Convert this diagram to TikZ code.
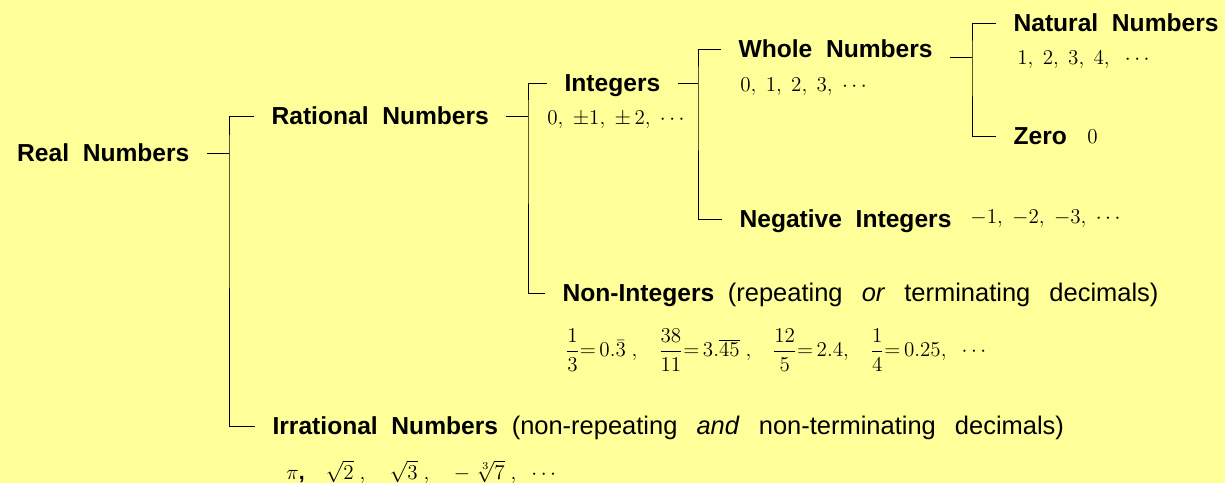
\documentclass[tikz,border=0pt]{standalone}
\usepackage{amsmath}
\usepackage[no-math]{fontspec}
\setmainfont{Liberation Sans}[WordSpace=2]
\newfontfamily\notefont{Liberation Sans}[WordSpace=2.7]
\definecolor{paper}{HTML}{FFFF99}

\begin{document}
\begin{tikzpicture}[x=0.02cm, y=-0.02cm,
    lbl/.style={inner sep=0pt, outer xsep=10pt, text height=10pt, text depth=0pt, font=\fontsize{14}{17}\selectfont},
    val/.style={inner sep=0pt, anchor=west, font=\fontsize{12}{14}\selectfont},
    branch/.style={line width=0.5pt}]
  \fill[paper] (0,0) rectangle (1225,483);
  \useasboundingbox (0,0) rectangle (1225,483);

  % labels
  \node[lbl, anchor=east] (real) at (207,153) {\textbf{Real Numbers}};
  \node[lbl, anchor=west] (rational) at (254,116) {\textbf{Rational Numbers}};
  \node[lbl, anchor=west] (irrational) at (255,426) {\textbf{Irrational Numbers} {\notefont\fontsize{14.5}{17}\selectfont(non-repeating \textit{and} non-terminating decimals)}};
  \node[lbl, anchor=west] (integers) at (547,83) {\textbf{Integers}};
  \node[lbl, anchor=west] (nonint) at (545,293) {\textbf{Non-Integers} {\notefont\fontsize{14.5}{17}\selectfont(repeating \textit{or} terminating decimals)}};
  \node[lbl, anchor=west] (whole) at (721,49) {\textbf{Whole Numbers}};
  \node[lbl, anchor=west] (negative) at (722,219) {\textbf{Negative Integers}};
  \node[lbl, anchor=west] (natural) at (996,23) {\textbf{Natural Numbers}};
  \node[lbl, anchor=west] (zero) at (996,136) {\textbf{Zero}};

  % values
  \node[val] (intval) at (547,120) {$0,\;\pm1,\;\pm\,2,\;\cdots$};
  \node[val] (wholeval) at (740,87) {$0,\;1,\;2,\;3,\;\cdots$};
  \node[val] (natval) at (1017,60) {$1,\;2,\;3,\;4,\;\;\cdots$};
  \node[val] (zeroval) at (1087,137) {$0$};
  \node[val] (negval) at (970,219) {$-1,\;-2,\;-3,\;\cdots$};
  \node[val] (nonintval) at (565,350) {$\dfrac{1}{3}{=}\,0.\bar{3}\;,\;\;\;\dfrac{38}{11}{=}\,3.\overline{45}\;,\;\;\;\dfrac{12}{5}{=}\,2.4,\;\;\;\dfrac{1}{4}{=}\,0.25,\;\;\cdots$};
  \node[val] (irrval) at (286,472) {$\pi$\textbf{,}\quad$\sqrt{2}\;,\quad\sqrt{3}\;,\quad-\;\sqrt[3]{7}\;,\;\;\cdots$};

  % junctions
  \coordinate (realJ) at (229,153);
  \coordinate (ratJ) at (528,116);
  \coordinate (intJ) at (698,83);
  \coordinate (wholeJ) at (972,57);

  \draw[branch] (real.east) -- (realJ);
  \draw[branch] (rational.west) -| (realJ) |- (irrational.west);
  \draw[branch] (rational.east) -- (ratJ);
  \draw[branch] (integers.west) -| (ratJ) |- (nonint.west);
  \draw[branch] (integers.east) -- (intJ);
  \draw[branch] (whole.west) -| (intJ) |- (negative.west);
  \draw[branch] (whole.east |- wholeJ) -- (wholeJ);
  \draw[branch] (natural.west) -| (wholeJ) |- (zero.west);
\end{tikzpicture}
\end{document}
